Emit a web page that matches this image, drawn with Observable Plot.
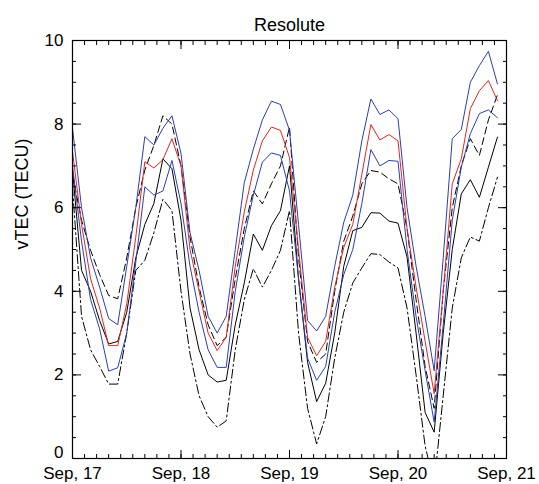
<!DOCTYPE html>
<html><head><meta charset="utf-8">
<script src="https://cdn.jsdelivr.net/npm/d3@7"></script>
<script src="https://cdn.jsdelivr.net/npm/@observablehq/plot@0.6"></script>
<style>
body{margin:0;background:#fff;}
svg{font-family:"Liberation Sans",Arial,Helvetica,sans-serif;}
</style>
</head><body><div id="chart"></div>
<script>
// Days on the x axis (September), data every 2 hours from Sep 17 00:00
const dayTicks = [17, 18, 19, 20, 21];
const yTicks = [2, 4, 6, 8, 10];
const yZero = [0];

const upperBlue = [7.9,6.0,4.8,4.1,3.35,3.2,4.6,6.0,7.7,7.5,7.9,8.2,7.3,5.4,4.5,3.4,3.0,3.4,5.0,6.6,7.4,8.1,8.55,8.47,7.85,5.6,3.3,3.05,3.4,4.6,5.65,6.3,7.6,8.6,8.23,8.34,8.13,6.0,4.6,3.4,2.1,4.8,7.65,7.87,9.0,9.4,9.74,8.96];
const redMean   = [7.35,5.6,4.3,3.6,2.7,2.7,3.7,5.3,7.1,6.95,7.15,7.65,7.0,5.0,4.0,3.0,2.58,2.9,4.6,5.9,6.9,7.6,7.93,7.85,7.2,5.0,2.9,2.46,2.8,4.1,5.05,5.6,6.8,7.99,7.62,7.75,7.6,5.5,4.1,2.8,1.55,4.0,6.57,7.17,8.37,8.8,9.04,8.56];
const lowerBlue = [7.0,5.2,3.8,3.1,2.09,2.17,3.0,4.7,6.5,6.3,6.4,7.13,6.1,4.6,3.5,2.6,2.18,2.18,4.0,5.3,6.3,7.09,7.31,7.25,6.4,4.3,2.4,1.87,2.2,3.5,4.4,5.0,6.1,7.39,7.0,7.13,7.11,5.0,3.4,2.1,0.87,3.2,5.7,6.97,7.77,8.25,8.34,8.15];
const blackSolid = [6.9,4.5,4.0,3.3,2.74,2.8,3.5,4.8,5.6,6.1,7.17,6.93,5.7,3.6,2.6,2.0,1.83,1.87,3.2,4.2,5.37,4.98,5.57,5.93,7.0,4.3,2.3,1.36,1.8,3.0,4.6,5.45,5.53,5.88,5.87,5.68,5.63,4.82,3.0,1.1,0.63,3.0,5.0,6.33,6.67,6.25,6.97,7.69];
const blackUpper = [6.8,5.7,4.98,4.4,3.9,3.82,4.8,6.0,6.9,7.49,8.2,8.0,7.0,5.3,4.1,3.2,2.7,2.9,4.3,5.5,6.4,6.09,6.57,7.0,7.93,4.8,2.8,2.3,2.5,4.0,5.2,5.8,6.57,6.89,6.85,6.69,6.57,5.5,3.8,2.2,1.2,4.0,6.0,7.0,7.65,7.25,8.1,8.7];
const blackLower = [6.5,3.4,2.6,2.2,1.78,1.78,3.0,4.5,4.74,5.4,6.2,5.93,4.0,2.5,1.5,1.0,0.75,0.9,2.6,3.8,4.54,4.1,4.5,4.98,5.93,3.0,1.2,0.35,1.0,2.4,3.5,4.2,4.56,4.9,4.88,4.7,4.56,3.6,2.0,0.3,-0.6,1.5,3.6,4.8,5.3,5.2,6.0,6.73];

const seriesData = {upperBlue, redMean, lowerBlue, blackSolid, blackUpper, blackLower};
const styles = {
  blackLower: {stroke: "#000", dash: "9,3,2,3"},
  blackUpper: {stroke: "#000", dash: "7,4"},
  blackSolid: {stroke: "#000", dash: null},
  lowerBlue:  {stroke: "#2b3db5", dash: null},
  upperBlue:  {stroke: "#2b3db5", dash: null},
  redMean:    {stroke: "#e3261c", dash: null}
};
const order = ["blackLower","blackUpper","blackSolid","lowerBlue","upperBlue","redMean"];

const rows = name => seriesData[name].map((v, i) => ({t: dayTicks[0] + i / 12, v}));

const minorX = d3.range(0, 37).map(k => 17 + k / 9);
const minorY = d3.range(0, 21).map(k => k / 2);
const majorY = [0, ...yTicks];

const chart = Plot.plot({
  width: 539,
  height: 484,
  marginLeft: 72,
  marginRight: 33,
  marginTop: 40,
  marginBottom: 26,
  style: {fontFamily: '"Liberation Sans",Arial,sans-serif', background: "#fff"},
  x: {domain: [17, 21], label: null},
  y: {domain: [0, 10], label: null},
  marks: [
    ...order.map(name => Plot.line(rows(name), {
      x: "t", y: "v", stroke: styles[name].stroke, strokeWidth: 1,
      strokeDasharray: styles[name].dash, clip: true
    })),
    Plot.frame({stroke: "#000", strokeWidth: 1.2}),
    // inward ticks x
    Plot.axisX(minorX, {anchor: "bottom", tickSize: -4, text: null, label: null, strokeWidth: 1}),
    Plot.axisX(dayTicks, {anchor: "bottom", tickSize: -8, text: null, label: null, strokeWidth: 1}),
    Plot.axisX(minorX, {anchor: "top", tickSize: -4, text: null, label: null, strokeWidth: 1}),
    Plot.axisX(dayTicks, {anchor: "top", tickSize: -8, text: null, label: null, strokeWidth: 1}),
    Plot.axisX(dayTicks, {anchor: "bottom", tickSize: 0, tickPadding: 8, fontSize: 17, label: null,
      tickFormat: d => `Sep, ${d}`}),
    // inward ticks y
    Plot.axisY(minorY, {anchor: "left", tickSize: -4, text: null, label: null, strokeWidth: 1}),
    Plot.axisY(majorY, {anchor: "left", tickSize: -9, text: null, label: null, strokeWidth: 1}),
    Plot.axisY(minorY, {anchor: "right", tickSize: -4, text: null, label: null, strokeWidth: 1}),
    Plot.axisY(majorY, {anchor: "right", tickSize: -9, text: null, label: null, strokeWidth: 1}),
    Plot.axisY(yTicks, {anchor: "left", tickSize: 0, tickPadding: 9, fontSize: 17, label: null}),
    Plot.axisY(yZero, {anchor: "left", tickSize: 0, tickPadding: 9, fontSize: 17, label: null, dy: -6}),
    Plot.text(["vTEC (TECU)"], {frameAnchor: "left", dx: -50, rotate: -90, fontSize: 18, fill: "#000"}),
    Plot.text(["Resolute"], {frameAnchor: "top", dy: -22, fontSize: 18, fill: "#000"})
  ]
});
document.getElementById("chart").appendChild(chart);
</script>
</body></html>
